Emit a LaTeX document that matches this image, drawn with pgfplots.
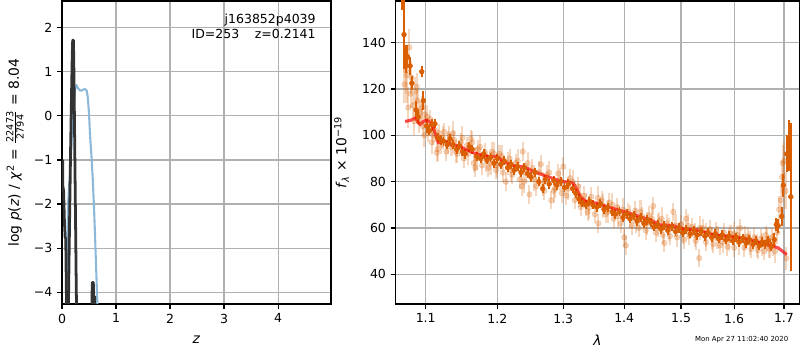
\documentclass[border=0pt]{standalone}
\usepackage{amsmath}
\usepackage{fontspec}
\setmainfont{DejaVu Sans}
\usepackage{pgfplots}
\usepackage{pgfplotstable}
\pgfplotsset{compat=1.18}
\definecolor{dorange}{HTML}{D95F02}
\definecolor{lblue}{RGB}{140,185,218}
\definecolor{dgray}{HTML}{333333}
\definecolor{gridc}{HTML}{B0B0B0}

\pgfplotstableread{
x y
0.070 -4.40
0.090 -3.30
0.117 -1.90
0.148 -1.30
0.180 -0.55
0.210 0.14
0.240 0.59
0.262 0.70
0.272 0.70
0.290 0.64
0.310 0.61
0.335 0.58
0.364 0.575
0.395 0.60
0.426 0.61
0.455 0.58
0.475 0.45
0.488 0.25
0.500 0.05
0.520 -0.45
0.545 -0.90
0.568 -1.40
0.590 -2.00
0.610 -2.66
0.632 -3.45
0.655 -4.26
0.665 -4.60
}\pzblue

\pgfplotstableread{
x y
0.000 -1.00
0.012 -1.02
0.016 -1.60
0.030 -1.70
0.045 -2.40
0.058 -2.75
0.068 -2.78
0.072 -3.05
0.080 -3.90
0.086 -4.50
}\pzka

\pgfplotstableread{
x y
0.117 -4.50
0.140 -2.40
0.160 -0.70
0.178 0.60
0.190 1.40
0.198 1.72
0.212 1.72
0.222 0.90
0.235 -0.60
0.250 -2.30
0.265 -4.00
0.272 -4.50
}\pzkb

\pgfplotstableread{
x y
0.552 -4.50
0.560 -3.78
0.580 -3.78
0.585 -4.10
0.605 -4.10
0.612 -4.50
}\pzkc

\pgfplotstableread{
x y
1.0727 106.0
1.0800 106.5
1.0858 107.5
1.0924 104.6
1.0970 106.0
1.1013 106.8
1.1060 105.5
1.1102 103.2
1.1140 99.5
1.1170 96.7
1.1230 97.8
1.1284 97.0
1.1330 96.0
1.1400 95.8
1.1468 95.3
1.1540 94.0
1.1608 93.1
1.1680 92.2
1.1750 91.7
1.1894 90.9
1.1991 90.9
1.2060 89.5
1.2138 88.1
1.2286 86.6
1.2385 86.6
1.2536 84.5
1.2742 82.3
1.2900 80.8
1.3002 80.1
1.3161 79.4
1.3220 76.5
1.3268 73.7
1.3377 71.1
1.3540 70.8
1.3706 69.3
1.3985 67.2
1.4272 65.0
1.4504 62.9
1.4623 61.4
1.4861 61.0
1.5043 59.6
1.5290 59.3
1.5601 57.1
1.5792 56.7
1.6051 56.1
1.6313 55.0
1.6579 53.2
1.6781 52.1
1.6884 51.4
1.6980 49.8
1.7057 48.5
}\model

\pgfplotstableread{
x y e
1.0690 168 14
1.0714 143.5 15
1.0740 133 6
1.0757 134 5
1.0793 130 4
1.0816 122.5 3
1.0872 111 4
1.0902 108 3
1.0947 127.5 2.5
1.0968 115 4
1.1013 104 3
1.1050 102 2
1.1080 104.5 2.5
1.1124 105 2
1.1160 99 2
1.1200 98 2
1.1240 97.5 2
1.1290 96 2
1.1330 98.5 2
1.1370 96 2
1.1420 94 2
1.1460 95.5 2
1.1500 93 2
1.1540 92 2
1.1600 95 2
1.1640 94 2
1.1700 91 2
1.1760 90 2
1.1800 92 2
1.1850 89.5 2
1.1900 90.5 2
1.1950 88 2
1.2000 90 2
1.2050 87.5 2
1.2100 89 2
1.2150 86 2
1.2200 87.5 2
1.2250 85 2
1.2300 86.5 2
1.2350 84 2
1.2400 86 2
1.2450 83.5 2
1.2500 82 2
1.2560 84 2
1.2620 80 2
1.2680 77 2
1.2720 81 2
1.2780 79 2
1.2850 80.5 2
1.2900 78.5 2
1.2960 80 2
1.3020 77.5 2
1.3080 79 2
1.3150 77 2
1.3200 75 2
1.3250 72.5 2
1.3300 71 2
1.3360 70 2
1.3420 71.5 2
1.3480 70 2
1.3540 69 2
1.3600 70.5 2
1.3660 68 2
1.3720 69 2
1.3800 67 2
1.3850 66 2
1.3920 67 2
1.3980 64.5 2
1.4040 66 2
1.4100 64 2
1.4160 65.5 2
1.4220 63 2
1.4280 64.5 2
1.4340 62 2
1.4400 63.5 2
1.4460 62.5 2
1.4520 60.5 2
1.4580 61.5 2
1.4640 59.5 2
1.4700 61 2
1.4760 59 2
1.4830 60.5 2
1.4900 58.5 2
1.4970 60 2
1.5030 58 2
1.5100 59.5 2
1.5170 57.5 2
1.5240 59 2
1.5300 57 2
1.5370 58.5 2
1.5440 56.5 2
1.5500 58 2
1.5570 56 2
1.5640 57.5 2
1.5700 55.5 2
1.5770 57 2
1.5840 55 2
1.5900 56.5 2
1.5970 54.5 2
1.6040 56 2
1.6100 54 2
1.6170 55.5 2
1.6240 53.5 2
1.6300 55 2
1.6370 53 2
1.6430 54.5 2
1.6500 52.5 2
1.6560 54 2
1.6620 53 2
1.6680 54.5 2
1.6740 52 2
1.6800 55 3
1.6840 61.5 3
1.6880 61 3
1.6953 65 4
1.6987 78.5 5
1.7055 92 8
1.7113 95.5 11
1.7141 73.5 32
}\dark

\pgfplotstableread{
x y e
1.0720 122 8
1.0750 126 12
1.0783 138 8
1.0800 118 6
1.0833 113 5
1.0860 119 6
1.0890 115 5
1.0930 110 5
1.0960 104 4
1.0990 109 5
1.1030 101 4
1.1060 107 4
1.1100 100 4
1.1148 92.5 4
1.1180 101 4
1.1210 96 4
1.1250 101.5 4
1.1280 93 4
1.1320 100 4
1.1350 95 4
1.1390 98 4
1.1430 92 4
1.1480 97 4
1.1520 90 4
1.1560 95.5 4
1.1620 98.5 4
1.1660 88 4
1.1684 86 4
1.1720 94 4
1.1780 87 4
1.1820 92.5 4
1.1870 86 4
1.1920 93 4
1.1980 85 4
1.2030 92 4
1.2080 84 4
1.2123 80 4
1.2180 90 4
1.2220 83 4
1.2270 88 4
1.2330 81 4
1.2363 78 4
1.2376 93 4
1.2420 84 4
1.2477 74.5 4
1.2520 86 4
1.2580 78 4
1.2652 87.5 4
1.2703 76 4
1.2750 83 4
1.2813 72 4
1.2870 77 4
1.2920 83.5 4
1.2980 75 4
1.3002 86.5 4
1.3050 74 4
1.3110 81.5 4
1.3180 72 4
1.3230 78 4
1.3280 69 4
1.3330 74 4
1.3390 67 4
1.3450 73.5 4
1.3510 66 4
1.3567 62 4
1.3620 72 4
1.3690 66 4
1.3750 71 4
1.3820 64 4
1.3880 69 4
1.3940 62 4
1.4000 56 4
1.4029 52.5 4
1.4070 67 4
1.4130 61 4
1.4190 67.5 4
1.4250 60 4
1.4310 65 4
1.4370 59 4
1.4430 65.5 4
1.4504 69.5 4
1.4550 58 4
1.4610 63 4
1.4670 57 4
1.4700 53.5 4
1.4740 62 4
1.4800 56.5 4
1.4861 67 4
1.4930 56 4
1.5000 61.5 4
1.5060 55 4
1.5093 64 4
1.5150 56.5 4
1.5210 60.5 4
1.5270 54.5 4
1.5335 47 4
1.5400 60 4
1.5460 54 4
1.5530 59.5 4
1.5600 53 4
1.5660 58.5 4
1.5730 52.5 4
1.5800 58 4
1.5870 52 4
1.5930 57.5 4
1.6000 51.5 4
1.6060 57 4
1.6121 60 4
1.6200 51.5 4
1.6270 56.5 4
1.6340 51 4
1.6400 56 4
1.6470 50.5 4
1.6530 55.5 4
1.6600 50 4
1.6628 57 4
1.6700 51 4
1.6760 56 4
1.6820 50 5
1.6860 58 5
1.6900 68 6
1.6930 72 6
1.6960 82 7
1.6975 88 8
1.7000 89 8
1.7030 76 8
1.7050 47 5
1.0740 128 10
1.0770 112 9
1.0810 125 7
1.0850 106 6
1.0880 121 6
1.0910 106 5
1.0950 112 5
1.0980 100 5
1.1020 108 5
1.1080 97 5
1.1130 102 5
1.1160 94 5
1.1230 99 5
1.1300 97 5
1.1370 101 5
1.1410 93 5
1.1500 99 5
1.1580 92 5
1.1640 97 5
1.1700 90 5
1.1750 95 5
1.1840 89 5
1.1900 88 5
1.1950 92 5
1.2000 87 5
1.2060 91 5
1.2150 88 5
1.2200 85 5
1.2300 89 5
1.2400 80 5
1.2450 88 5
1.2550 81 5
1.2620 84 5
1.2680 79 5
1.2780 84 5
1.2850 76 5
1.2950 81 5
1.3080 77 5
1.3150 80 5
1.3260 74 5
1.3360 70 5
1.3420 69 5
1.3560 73 5
1.3650 69.5 5
1.3720 67 5
1.3800 70 5
1.3900 65 5
1.3980 68 5
1.4100 65 5
1.4200 63 5
1.4280 67 5
1.4400 62 5
1.4480 64 5
1.4580 61 5
1.4650 64 5
1.4780 59.5 5
1.4900 61 5
1.5030 58 5
1.5130 61 5
1.5250 57 5
1.5350 60 5
1.5470 57 5
1.5580 55.5 5
1.5680 56 5
1.5780 54 5
1.5900 55 5
1.6000 57.5 5
1.6100 53.5 5
1.6220 56 5
1.6320 53.5 5
1.6450 52.5 5
1.6550 53 5
1.6650 55 5
1.6720 52 5
1.6780 53 5
}\light

\pgfplotsset{
  myaxis/.style={
    scale only axis,
    anchor=south west,
    axis line style={line width=0.8pt},
    tick align=outside,
    tick pos=left,
    major tick length=3.5pt,
    every tick/.style={black, line width=0.8pt},
    grid=major,
    major grid style={color=gridc, line width=0.8pt},
    tick label style={font=\fontsize{9}{10.8}\selectfont},
    label style={font=\fontsize{9}{10.8}\selectfont},
    /pgf/number format/assume math mode=true,
    clip=true,
  }
}

\begin{document}
\begin{tikzpicture}
\useasboundingbox (0,0) rectangle (576pt,252pt);

\begin{axis}[myaxis,
  at={(44.64pt,33.12pt)}, width=193.68pt, height=218.16pt,
  xmin=0, xmax=4.98, ymin=-4.27, ymax=2.61,
  xtick={0,1,2,3,4},
  ytick={-4,-3,-2,-1,0,1,2},
  yticklabels={−4,−3,−2,−1,0,1,2},
  xlabel={\textit{z}},
  ylabel={log \textit{p}(\textit{z}) / \textit{χ}\textsuperscript{2} = $\frac{\text{22473}}{\text{2794}}$ = 8.04},
  every axis x label/.style={at={(rel axis cs:0.5,-0.119)}, anchor=center},
  every axis y label/.style={at={(rel axis cs:-0.175,0.5)}, rotate=90, anchor=center},
]
\addplot[color=lblue, line width=1.5pt, line join=round] table[x=x,y=y] {\pzblue};
\addplot[color=dgray, line width=2pt, line join=round] table[x=x,y=y] {\pzka};
\addplot[color=dgray, line width=2pt, line join=round] table[x=x,y=y] {\pzkb};
\addplot[color=dgray, line width=2pt, line join=round] table[x=x,y=y] {\pzkc};
\node[anchor=east, font=\fontsize{9}{10.8}\selectfont, inner sep=0pt] at (rel axis cs:0.944,0.937) {j163852p4039};
\node[anchor=east, font=\fontsize{9}{10.8}\selectfont, inner sep=0pt] at (rel axis cs:0.944,0.891) {ID=253\hspace{1.25em}z=0.2141};
\end{axis}

\begin{axis}[myaxis,
  at={(284.9pt,33.12pt)}, width=290.6pt, height=218.16pt,
  xmode=log,
  xmin=1.0606, xmax=1.7318, ymin=27.2, ymax=158,
  xtick={1.1,1.2,1.3,1.4,1.5,1.6,1.7},
  xticklabels={1.1,1.2,1.3,1.4,1.5,1.6,1.7},
  minor xtick={},
  ytick={40,60,80,100,120,140},
  xlabel={\textit{λ}},
  ylabel={\textit{f}\textsubscript{\textit{λ}} × 10\textsuperscript{−19}},
  every axis x label/.style={at={(rel axis cs:0.5,-0.119)}, anchor=center},
  every axis y label/.style={at={(rel axis cs:-0.134,0.5)}, rotate=90, anchor=center},
]
\addplot[only marks, mark=*, mark size=2pt, color=dorange, opacity=0.25,
  mark options={draw=none, fill=dorange},
  error bars/.cd, y dir=both, y explicit, error mark=none,
  error bar style={line width=1.5pt, color=dorange, opacity=0.25}]
  table[x=x, y=y, y error=e] {\light};
\addplot[only marks, mark=*, mark size=1.7pt, color=dorange,
  mark options={draw=none, fill=dorange},
  error bars/.cd, y dir=both, y explicit, error mark=none,
  error bar style={line width=1.4pt, color=dorange}]
  table[x=x, y=y, y error=e] {\dark};
\addplot[color=red, opacity=0.7, line width=2.2pt, line join=round] table[x=x,y=y] {\model};
\end{axis}

\node[font=\fontsize{5}{6}\selectfont] at (534pt,7.7pt) {Mon Apr 27 11:02:40 2020};
\end{tikzpicture}
\end{document}
